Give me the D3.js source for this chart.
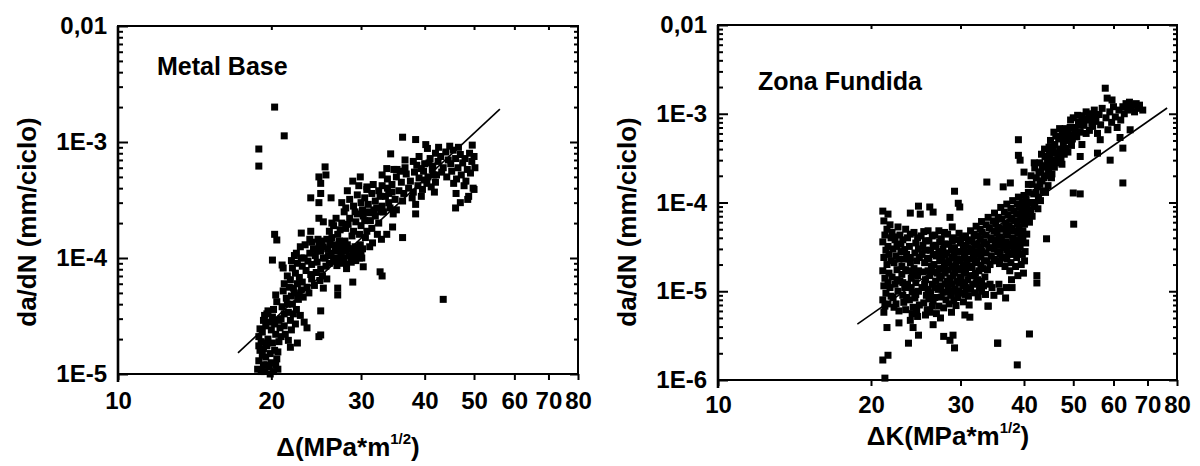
<!DOCTYPE html>
<html>
<head>
  <meta charset="utf-8">
  <title>da/dN vs Delta K</title>
  <script src="https://cdn.jsdelivr.net/npm/d3@7"></script>
  <style>
    body { margin: 0; background: #fff; }
    svg { display: block; }
    svg text { font-family: "Liberation Sans", Arial, sans-serif; font-weight: bold; fill: #000; }
  </style>
</head>
<body>
<svg id="chart" width="1200" height="466"></svg>
<script>
// axis ticks
var xTicks = [10, 20, 30, 40, 50, 60, 70, 80];
var xTickLabels = ["10", "20", "30", "40", "50", "60", "70", "80"];
var mbYTicks = [1e-5, 1e-4, 1e-3, 1e-2];
var mbYTickLabels = ["1E-5", "1E-4", "1E-3", "0,01"];
var zfYTicks = [1e-6, 1e-5, 1e-4, 1e-3, 1e-2];
var zfYTickLabels = ["1E-6", "1E-5", "1E-4", "1E-3", "0,01"];

// fitted lines [deltaK, da/dN]
var mbFit = [[17.2, 1.52e-5], [56.2, 1.92e-3]];
var zfFit = [[18.8, 4.27e-6], [76.5, 1.16e-3]];

// Metal Base: [deltaK (MPa*m^1/2), da/dN (mm/ciclo)]
var mbPoints = [
  [20.3,2.0e-3],[21.2,1.13e-3],[18.9,8.7e-4],[18.9,6.2e-4],[36.2,1.1e-3],[38.4,1.05e-3],[43.5,4.4e-5],
  [34.3,7.9e-4],[36.6,7.0e-4],[25.5,6.1e-4],[25.6,5.2e-4],[24.8,5.0e-4],[25.0,4.4e-4],[23.9,3.3e-4],
  [24.8,3.0e-4],[25.0,3.6e-4],[26.2,3.3e-4],[24.8,2.2e-4],[25.3,2.05e-4],[20.3,1.6e-4],[20.5,1.43e-4],
  [20.1,9.6e-5],[21.0,8.7e-5],[21.1,8.2e-5],[22.9,1.64e-4],[23.9,1.7e-4],[24.0,1.37e-4],[28.9,4.6e-4],
  [29.9,5.0e-4],[30.8,4.1e-4],[33.0,5.2e-4],[33.7,5.9e-4],[35.3,5.8e-4],[28.1,8.1e-5],[30.3,8.4e-5],
  [28.9,6.2e-5],[32.7,7.6e-5],[33.0,7.0e-5],[27.0,5.5e-5],[27.0,4.8e-5],[25.0,3.5e-5],[24.8,2.1e-5],
  [25.0,2.17e-5],[36.2,1.5e-4],[33.7,1.6e-4],[34.6,1.85e-4],[38.4,2.4e-4],[22.5,1.85e-5],[21.8,1.7e-5],
  [23.5,2.5e-5],[23.2,2.8e-5],[25.3,5.5e-5],[25.7,6.6e-5],
  [18.8,1.1e-5],[18.9,1.3e-5],[19.0,1.6e-5],[19.1,1.9e-5],[19.2,2.3e-5],[18.9,2.1e-5],[19.3,1.2e-5],
  [19.4,1.05e-5],[19.5,1.4e-5],[19.6,1.75e-5],[19.7,2.0e-5],[19.5,2.6e-5],[19.8,1.15e-5],[19.9,1.5e-5],
  [20.0,1.25e-5],[20.1,1.85e-5],[20.2,1.05e-5],[20.3,1.6e-5],[20.4,2.2e-5],[20.5,1.35e-5],[20.6,1.1e-5],
  [19.2,1.45e-5],[19.6,1.2e-5],[20.0,2.4e-5],[19.3,2.9e-5],[19.1,1.05e-5],[19.8,2.8e-5],[20.3,2.7e-5],
  [20.7,1.9e-5],[20.8,2.5e-5],[19.0,2.45e-5],[19.4,3.2e-5],[19.7,3.5e-5],[20.1,3.1e-5],[19.9,1.0e-5],
  [20.4,1.2e-5],[19.5,1.85e-5],[20.6,1.55e-5],[18.9,1.75e-5],[19.3,1.65e-5],
  [19.6,3.3e-5],[20.2,3.6e-5],[20.5,4.2e-5],[20.9,3.0e-5],[21.2,2.6e-5],[21.0,3.8e-5],[21.4,4.5e-5],
  [21.6,3.4e-5],[21.8,2.9e-5],[22.0,4.0e-5],[22.2,5.0e-5],[22.4,3.6e-5],[21.3,2.2e-5],[21.6,1.95e-5],
  [21.9,2.4e-5],[22.6,4.4e-5],[22.8,3.2e-5],[20.7,2.9e-5],[21.1,5.2e-5],[21.7,5.6e-5],[22.3,2.7e-5],
  [20.4,4.8e-5],[21.5,4.0e-5],[22.1,3.3e-5],[22.9,5.3e-5],[20.9,2.1e-5],[21.9,4.7e-5],[22.5,6.0e-5],
  [20.3,2.9e-5],[21.2,3.3e-5],
  [21.2,6.0e-5],[21.5,7.0e-5],[21.8,6.5e-5],[22.0,8.2e-5],[22.3,7.4e-5],[22.5,9.0e-5],[22.7,6.8e-5],
  [23.0,8.5e-5],[23.2,1.0e-4],[23.4,7.8e-5],[23.6,9.4e-5],[23.8,1.1e-4],[24.0,8.8e-5],[24.2,1.2e-4],
  [24.4,1.05e-4],[24.6,9.2e-5],[24.8,1.3e-4],[25.0,1.15e-4],[23.0,6.2e-5],[23.5,5.6e-5],[24.0,6.6e-5],
  [24.5,7.5e-5],[25.0,8.0e-5],[22.4,1.1e-4],[22.8,1.25e-4],[23.3,1.3e-4],[23.8,1.45e-4],[22.1,5.5e-5],
  [22.6,4.8e-5],[23.1,4.6e-5],[23.7,5.0e-5],[24.3,5.8e-5],[21.9,9.5e-5],[22.2,1.05e-4],[24.9,6.4e-5],
  [25.2,7.0e-5],[23.9,7.2e-5],[22.9,1.0e-4],[24.7,1.45e-4],[25.3,1.0e-4],
  [25.5,1.0e-4],[25.8,1.2e-4],[26.0,9.0e-5],[26.2,1.1e-4],[26.4,1.3e-4],[26.6,1.0e-4],[26.8,1.2e-4],
  [27.0,9.5e-5],[27.2,1.4e-4],[27.4,1.1e-4],[27.6,1.25e-4],[27.8,1.0e-4],[28.0,1.15e-4],[28.2,1.3e-4],
  [28.4,1.05e-4],[28.6,1.2e-4],[28.8,9.8e-5],[29.0,1.1e-4],[29.2,1.25e-4],[29.4,1.05e-4],[29.6,1.15e-4],
  [29.8,1.0e-4],[30.0,1.1e-4],[30.2,1.2e-4],[25.7,1.45e-4],[26.3,1.5e-4],[26.9,8.6e-5],[27.5,9.0e-5],
  [28.1,8.8e-5],[28.7,9.2e-5],[25.3,1.25e-4],[26.1,1.35e-4],[27.9,1.4e-4],[29.3,9.5e-5],[30.1,1.0e-4],
  [26.7,1.15e-4],[27.3,1.0e-4],[28.3,1.2e-4],[29.9,1.3e-4],[25.9,1.05e-4],[27.1,1.25e-4],[24.6,1.15e-4],
  [25.1,1.4e-4],[25.6,8.5e-5],[26.5,9.5e-5],
  [26.0,1.7e-4],[26.5,1.9e-4],[27.0,1.6e-4],[27.5,2.0e-4],[28.0,1.8e-4],[28.5,2.2e-4],[29.0,1.7e-4],
  [29.5,2.4e-4],[30.0,1.9e-4],[30.5,2.1e-4],[31.0,2.5e-4],[31.5,1.8e-4],[32.0,2.3e-4],[32.5,2.0e-4],
  [26.8,2.2e-4],[27.8,2.5e-4],[28.8,1.55e-4],[29.8,1.6e-4],[30.8,1.7e-4],[31.8,2.6e-4],[27.3,1.75e-4],
  [28.3,1.95e-4],[29.3,2.05e-4],[30.3,2.3e-4],[31.3,2.1e-4],[32.3,1.6e-4],[32.8,2.5e-4],[26.3,2.0e-4],
  [30.6,1.5e-4],[31.6,1.35e-4],[32.9,1.45e-4],[31.2,1.25e-4],
  [27.5,3.0e-4],[28.0,2.7e-4],[28.5,3.2e-4],[29.0,2.8e-4],[29.5,3.5e-4],[30.0,3.0e-4],[30.5,3.3e-4],
  [31.0,2.9e-4],[31.5,3.6e-4],[32.0,3.1e-4],[32.5,3.8e-4],[33.0,2.8e-4],[33.5,3.4e-4],[34.0,3.0e-4],
  [34.5,3.7e-4],[35.0,3.2e-4],[29.2,2.5e-4],[30.2,2.6e-4],[31.2,2.45e-4],[32.2,2.7e-4],[33.2,2.5e-4],
  [34.2,2.7e-4],[28.2,3.8e-4],[30.8,3.9e-4],[33.8,4.0e-4],[35.2,2.6e-4],[29.7,4.2e-4],[31.7,4.3e-4],
  [34.7,2.4e-4],[32.7,3.4e-4],
  [33.0,4.2e-4],[33.8,4.8e-4],[34.5,4.3e-4],[35.2,5.0e-4],[36.0,4.5e-4],[36.8,5.3e-4],[37.5,4.6e-4],
  [38.2,5.5e-4],[39.0,4.9e-4],[39.8,5.6e-4],[40.6,5.0e-4],[41.4,5.8e-4],[42.2,5.2e-4],[35.6,3.8e-4],
  [36.4,3.6e-4],[37.2,4.0e-4],[38.0,3.7e-4],[38.8,4.2e-4],[39.6,3.9e-4],[40.4,4.4e-4],[41.2,4.1e-4],
  [42.0,4.5e-4],[34.0,3.6e-4],[36.6,6.0e-4],[38.6,6.3e-4],[40.8,6.6e-4],[37.8,3.3e-4],[39.4,3.4e-4],
  [41.8,3.7e-4],[35.8,5.6e-4],[34.8,5.8e-4],[36.2,3.1e-4],[38.4,2.9e-4],[40.0,4.7e-4],
  [38.0,6.8e-4],[39.0,7.5e-4],[40.0,6.5e-4],[40.5,8.8e-4],[41.0,7.2e-4],[41.5,6.2e-4],[42.0,8.0e-4],
  [42.5,6.8e-4],[43.0,7.5e-4],[43.5,6.0e-4],[44.0,8.2e-4],[44.5,7.0e-4],[45.0,6.5e-4],[45.5,8.5e-4],
  [46.0,7.2e-4],[46.5,6.0e-4],[47.0,7.8e-4],[47.5,6.6e-4],[48.0,7.2e-4],[48.5,5.8e-4],[49.0,8.0e-4],
  [49.5,6.8e-4],[50.0,7.5e-4],[43.2,5.5e-4],[44.2,5.0e-4],[45.2,5.6e-4],[46.2,4.8e-4],[47.2,5.2e-4],
  [48.2,4.6e-4],[49.2,5.4e-4],[42.6,9.0e-4],[44.8,9.2e-4],[46.6,9.0e-4],[40.2,9.5e-4],[41.6,5.2e-4],
  [39.4,5.9e-4],[49.6,9.4e-4],[50.2,6.0e-4],[47.8,4.2e-4],[46.1,3.6e-4],[48.6,3.2e-4],[49.8,4.0e-4],
  [46.0,2.7e-4],[47.0,3.0e-4],[48.8,3.4e-4],[50.0,3.9e-4],[45.6,4.4e-4]
];

// Zona Fundida: [deltaK (MPa*m^1/2), da/dN (mm/ciclo)]
var zfPoints = [
  [21.1,8.0e-5],[21.6,7.4e-5],[21.2,6.2e-5],[21.8,5.6e-5],[21.3,4.3e-5],[21.1,3.6e-5],[21.4,2.9e-5],
  [21.2,2.4e-5],[21.5,2.0e-5],[21.1,1.7e-5],[21.3,1.4e-5],[21.2,1.15e-5],[21.4,9.5e-6],[21.1,8.0e-6],
  [21.3,6.8e-6],[21.2,5.8e-6],[21.6,3.2e-5],[21.7,1.6e-5],[21.8,1.1e-5],[21.5,3.9e-6],
  [21.1,1.68e-6],[21.6,1.9e-6],[21.3,1.05e-6],[22.7,4.4e-6],[23.7,2.6e-6],[24.8,3.2e-6],
  [22.0,4.6e-5],[22.3,3.8e-5],[22.1,3.0e-5],[22.4,2.5e-5],[22.2,2.1e-5],[22.5,1.75e-5],[22.0,1.45e-5],
  [22.3,1.2e-5],[22.6,1.0e-5],[22.1,8.5e-6],[22.4,7.2e-6],[22.7,6.0e-6],[22.8,4.3e-5],[22.9,2.8e-5],
  [23.0,1.9e-5],[22.8,1.3e-5],[23.1,9.0e-6],[22.9,3.4e-5],[23.2,2.3e-5],[23.0,1.55e-5],[23.3,1.1e-5],
  [23.2,7.5e-6],[22.6,5.3e-5],[23.4,5.0e-5],
  [23.6,4.0e-5],[23.8,3.2e-5],[23.5,2.6e-5],[23.9,2.1e-5],[23.7,1.7e-5],[24.0,1.4e-5],[23.6,1.2e-5],
  [24.1,9.8e-6],[23.8,8.0e-6],[24.2,6.6e-6],[24.3,4.6e-5],[24.5,3.5e-5],[24.4,2.7e-5],[24.6,2.2e-5],
  [24.3,1.8e-5],[24.7,1.5e-5],[24.5,1.25e-5],[24.8,1.0e-5],[24.4,8.4e-6],[24.9,7.0e-6],[23.9,7.6e-5],
  [24.8,9.1e-5],[25.0,7.4e-5],[24.1,5.6e-6],[24.7,5.2e-6],[24.2,3.9e-6],[23.9,4.7e-6],
  [25.1,4.2e-5],[25.3,3.3e-5],[25.2,2.6e-5],[25.5,2.1e-5],[25.3,1.65e-5],[25.6,1.35e-5],[25.2,1.1e-5],
  [25.7,9.0e-6],[25.4,7.4e-6],[25.8,6.2e-6],[25.9,4.8e-5],[26.0,3.7e-5],[26.2,2.9e-5],[26.0,2.3e-5],
  [26.3,1.9e-5],[26.1,1.5e-5],[26.4,1.2e-5],[26.2,9.6e-6],[26.5,7.8e-6],[26.1,5.8e-6],[26.7,4.3e-5],
  [26.8,3.3e-5],[26.9,2.5e-5],[26.6,2.0e-5],[27.0,1.6e-5],[26.8,1.3e-5],[27.1,1.05e-5],[26.7,8.5e-6],
  [27.2,6.8e-6],[26.5,4.2e-6],[26.1,8.9e-5],[26.5,7.8e-5],[27.4,5.0e-6],[27.8,3.1e-6],
  [27.5,3.9e-5],[27.7,3.0e-5],[27.6,2.4e-5],[27.9,1.9e-5],[27.5,1.5e-5],[28.0,1.2e-5],[27.7,9.8e-6],
  [28.1,8.0e-6],[27.8,6.5e-6],[28.3,4.4e-5],[28.4,3.4e-5],[28.2,2.7e-5],[28.5,2.2e-5],[28.3,1.75e-5],
  [28.6,1.4e-5],[28.4,1.1e-5],[28.7,9.0e-6],[28.5,7.2e-6],[28.8,5.8e-6],[28.6,6.8e-5],[28.9,5.3e-5],
  [28.6,2.8e-6],[29.2,2.3e-6],[29.0,3.2e-6],[29.0,4.0e-5],
  [29.2,3.1e-5],[29.1,2.5e-5],[29.4,2.0e-5],[29.2,1.6e-5],[29.5,1.3e-5],[29.3,1.05e-5],[29.6,8.5e-6],
  [29.4,6.9e-6],[29.7,9.8e-5],[29.9,8.9e-5],[29.2,1.34e-4],[29.8,4.5e-5],[30.0,3.5e-5],[30.1,2.8e-5],
  [29.9,2.3e-5],[30.2,1.8e-5],[30.0,1.45e-5],[30.3,1.15e-5],[30.1,9.5e-6],[30.4,7.6e-6],[30.6,5.4e-6],
  [30.7,4.2e-5],[30.8,3.3e-5],[30.6,2.6e-5],[30.9,2.1e-5],[30.7,1.7e-5],[31.0,1.35e-5],[30.8,1.1e-5],
  [31.1,8.8e-6],[31.3,5.1e-6],[31.2,7.0e-6],
  [31.4,4.8e-5],[31.6,3.8e-5],[31.5,3.0e-5],[31.8,2.4e-5],[31.6,1.9e-5],[31.9,1.5e-5],[31.7,1.2e-5],
  [32.0,9.6e-6],[32.2,5.4e-5],[32.4,4.2e-5],[32.3,3.3e-5],[32.5,2.6e-5],[32.3,2.1e-5],[32.6,1.7e-5],
  [32.4,1.35e-5],[32.7,1.1e-5],[32.5,8.6e-6],[33.0,6.1e-5],[33.1,4.6e-5],[33.3,3.6e-5],[33.0,2.8e-5],
  [33.4,2.2e-5],[33.2,1.8e-5],[33.5,1.45e-5],[33.3,1.15e-5],[33.6,9.2e-6],[34.0,6.8e-6],
  [33.8,1.7e-4],[34.0,6.8e-5],[34.2,5.2e-5],[34.4,4.0e-5],[34.1,3.1e-5],[34.5,2.5e-5],[34.3,2.0e-5],
  [34.6,1.1e-5],[34.9,9.0e-6],[35.0,7.6e-5],[35.2,5.8e-5],[35.4,4.5e-5],[35.1,3.5e-5],[35.5,2.8e-5],
  [35.3,2.2e-5],[35.7,1.2e-5],[35.9,1.0e-5],[35.5,2.6e-6],[36.0,8.8e-5],[36.2,6.5e-5],[36.4,5.0e-5],
  [36.1,3.9e-5],[36.5,3.1e-5],[36.3,2.4e-5],[36.7,1.9e-5],[36.4,1.5e-4],[36.8,8.4e-6],[36.9,1.1e-5],
  [37.6,1.66e-4],
  [37.0,9.6e-5],[37.2,7.2e-5],[37.4,5.5e-5],[37.1,4.3e-5],[37.5,3.4e-5],[37.3,2.7e-5],[37.7,2.1e-5],
  [37.5,1.7e-5],[37.8,1.35e-5],[37.9,1.1e-5],[38.0,1.05e-4],[38.2,8.0e-5],[38.4,6.2e-5],[38.1,4.8e-5],
  [38.5,3.8e-5],[38.3,3.0e-5],[38.7,2.4e-5],[38.5,1.9e-5],[38.9,1.5e-5],[39.0,1.15e-4],[39.2,8.8e-5],
  [39.4,6.8e-5],[39.1,5.3e-5],[39.5,4.1e-5],[39.3,3.2e-5],[39.7,2.6e-5],[39.5,2.0e-5],[40.0,1.2e-4],
  [40.2,9.5e-5],[40.4,7.4e-5],[40.1,5.7e-5],[40.3,3.5e-5],[40.2,2.8e-5],[40.1,2.2e-5],[39.9,1.6e-5],
  [38.8,1.48e-6],[39.0,5.1e-4],[39.0,3.4e-4],[39.3,3.0e-4],[40.0,2.2e-4],[41.0,3.3e-6],[34.0,6.8e-6],
  [35.5,2.6e-6],
  // fill of the dense cloud
  [21.5,5.0e-5],[21.9,4.0e-5],[21.7,2.6e-5],[21.9,2.2e-5],[21.6,1.25e-5],[21.9,8.8e-6],[21.6,7.2e-6],
  [22.2,6.6e-6],[22.5,1.35e-5],[22.7,2.3e-5],[22.5,3.2e-5],[22.2,4.1e-5],[23.1,3.8e-5],[23.3,2.95e-5],
  [23.4,1.75e-5],[23.1,1.25e-5],[23.5,8.5e-6],[23.4,6.2e-6],[23.9,4.4e-5],[23.9,2.4e-5],[24.1,1.55e-5],
  [24.0,1.1e-5],[24.5,9.2e-6],[24.6,6.2e-6],[24.8,1.7e-5],[24.9,2.4e-5],[24.8,3.0e-5],[24.7,4.0e-5],
  [25.4,4.7e-5],[25.6,3.7e-5],[25.6,2.9e-5],[25.8,2.35e-5],[25.9,1.7e-5],[25.5,1.2e-5],[25.9,1.05e-5],
  [26.0,8.2e-6],[25.6,5.4e-6],[26.4,4.2e-5],[26.5,3.2e-5],[26.5,2.6e-5],[26.6,1.65e-5],[26.7,1.1e-5],
  [26.4,6.8e-6],[26.9,5.6e-6],[27.2,4.8e-5],[27.3,3.6e-5],[27.2,2.8e-5],[27.3,2.2e-5],[27.4,1.8e-5],
  [27.3,1.4e-5],[27.4,1.15e-5],[27.5,8.6e-6],[27.9,4.6e-5],[27.9,3.4e-5],[28.0,2.55e-5],[28.1,2.1e-5],
  [28.0,1.6e-5],[28.2,1.3e-5],[28.3,9.8e-6],[28.9,3.7e-5],[28.8,2.95e-5],[28.9,2.4e-5],[28.9,1.9e-5],
  [29.0,1.5e-5],[28.9,1.2e-5],[29.0,1.0e-5],[29.1,7.8e-6],[29.6,3.8e-5],[29.5,2.75e-5],[29.6,2.2e-5],
  [29.7,1.75e-5],[29.8,1.25e-5],[29.8,1.0e-5],[30.3,4.0e-5],[30.4,3.1e-5],[30.5,2.4e-5],[30.4,2.0e-5],
  [30.5,1.6e-5],[30.6,1.25e-5],[30.6,9.2e-6],[31.1,3.7e-5],[31.2,2.8e-5],[31.3,2.3e-5],[31.2,1.85e-5],
  [31.3,1.5e-5],[31.4,1.05e-5],[31.9,4.4e-5],[32.0,3.4e-5],[32.0,2.8e-5],[32.1,2.2e-5],[32.1,1.6e-5],
  [32.2,1.25e-5],[32.8,5.0e-5],[32.8,3.9e-5],[32.9,3.1e-5],[32.9,2.45e-5],[32.9,1.95e-5],[33.0,1.3e-5],
  [33.0,1.0e-5],[33.7,5.6e-5],[33.7,4.3e-5],[33.8,3.4e-5],[33.7,2.7e-5],[33.8,2.2e-5],[33.9,1.75e-5],
  [34.3,1.2e-5],[34.8,6.2e-5],[34.9,4.8e-5],[34.8,3.8e-5],[34.9,3.0e-5],[34.9,2.3e-5],[35.6,6.8e-5],
  [35.7,5.2e-5],[35.8,4.1e-5],[35.9,3.3e-5],[35.9,2.6e-5],[35.8,2.05e-5],[36.6,7.8e-5],[36.8,5.8e-5],
  [36.9,4.6e-5],[36.9,3.6e-5],[37.0,2.9e-5],[37.0,2.3e-5],[37.7,8.6e-5],[37.8,6.6e-5],[37.9,5.1e-5],
  [38.0,4.0e-5],[38.0,3.2e-5],[38.1,2.6e-5],[38.8,9.6e-5],[38.8,7.4e-5],[38.8,5.8e-5],[38.9,4.5e-5],
  [38.9,3.5e-5],[39.0,2.8e-5],[39.7,1.0e-4],[39.7,8.0e-5],[39.8,6.3e-5],[39.8,4.8e-5],[39.8,3.8e-5],
  [40.4,1.1e-4],[40.6,8.6e-5],[40.6,6.6e-5],[40.5,4.4e-5],
  // rising branch
  [40.8,1.3e-4],[41.0,1.0e-4],[41.2,8.2e-5],[41.5,1.6e-4],[41.8,1.25e-4],[42.0,1.0e-4],[42.0,2.45e-4],
  [42.3,1.9e-4],[42.5,1.5e-4],[42.7,1.15e-4],[42.4,1.5e-5],[42.4,1.24e-5],[43.0,2.8e-4],[43.2,2.2e-4],
  [43.4,1.75e-4],[43.6,1.35e-4],[43.1,1.05e-4],[44.0,3.3e-4],[44.2,2.6e-4],[44.4,2.0e-4],[44.6,1.55e-4],
  [44.3,3.9e-5],[44.8,4.2e-4],[45.0,3.4e-4],[45.2,2.7e-4],[45.4,2.1e-4],[45.8,6.2e-4],[45.8,3.0e-4],
  [46.0,4.5e-4],[46.3,3.6e-4],[46.5,2.8e-4],[46.8,5.2e-4],[47.0,4.0e-4],[47.3,3.1e-4],[47.6,6.0e-4],
  [47.8,4.6e-4],[48.0,3.5e-4],[48.2,6.8e-4],[48.5,5.0e-4],[48.8,3.7e-4],[49.3,7.0e-4],[49.0,5.8e-4],
  [49.6,4.4e-4],[50.0,1.28e-4],[51.6,1.25e-4],[50.1,5.7e-5],
  [40.8,1.6e-4],[41.3,2.0e-4],[41.0,6.0e-5],[41.5,7.0e-5],[41.8,9.0e-5],[41.9,2.8e-4],[42.2,1.3e-4],
  [42.6,8.5e-5],[42.8,2.2e-4],[43.0,1.6e-4],[43.3,3.5e-4],[43.5,2.5e-4],[43.8,1.9e-4],[43.9,4.0e-4],
  [44.1,1.3e-4],[44.5,2.9e-4],[44.7,2.3e-4],[44.9,3.7e-4],[45.1,5.0e-4],[45.3,1.9e-4],[45.6,3.9e-4],
  [45.9,2.5e-4],[46.2,5.6e-4],[46.6,3.2e-4],[47.0,6.8e-4],[47.2,3.6e-4],[47.5,2.7e-4],[48.0,5.4e-4],
  [48.4,4.1e-4],[48.9,6.3e-4],[49.4,8.5e-4],[49.8,5.2e-4],
  // upper end
  [50.0,9.0e-4],[50.4,7.0e-4],[50.8,5.5e-4],[51.2,8.0e-4],[51.6,6.2e-4],[52.0,9.5e-4],[52.5,7.4e-4],
  [53.0,1.05e-3],[53.4,8.5e-4],[53.8,6.5e-4],[54.2,9.0e-4],[54.6,7.2e-4],[55.0,1.1e-3],[55.4,8.2e-4],
  [55.8,6.0e-4],[56.2,9.8e-4],[56.6,7.5e-4],[57.0,1.15e-3],[57.8,1.94e-3],[58.3,1.5e-3],[59.6,1.43e-3],
  [58.0,9.0e-4],[58.5,6.6e-4],[59.0,1.05e-3],[59.5,8.0e-4],[60.0,1.2e-3],[60.5,9.2e-4],[61.0,7.0e-4],
  [61.5,1.1e-3],[62.0,8.5e-4],[62.6,1.2e-3],[63.0,1.0e-3],[63.5,1.3e-3],[64.0,1.1e-3],[64.5,1.35e-3],
  [65.0,1.15e-3],[65.5,1.25e-3],[66.0,1.05e-3],[66.5,1.3e-3],[67.0,1.15e-3],[67.5,1.25e-3],[68.5,1.1e-3],
  [62.6,1.66e-4],[51.6,3.3e-4],[55.8,3.6e-4],[59.1,3.0e-4],[62.6,4.1e-4],[61.8,5.4e-4],[64.7,6.6e-4],
  [56.5,5.1e-4],[52.0,4.5e-4],[50.5,6.0e-4],[51.0,9.6e-4],[51.5,7.4e-4],[52.3,8.6e-4],[53.0,6.0e-4],
  [53.6,1.0e-3],[54.4,7.8e-4],[55.2,9.4e-4]
];

var panels = [
  { title: "Metal Base", titleX: 157, titleY: 75, points: mbPoints, fit: mbFit,
    yDomain: [1e-5, 1e-2], yTicks: mbYTicks, yLabels: mbYTickLabels,
    left: 118, right: 578, top: 26, bottom: 374, xPad: 12,
    yTitleX: 27, yTitleY: 222, xTitleX: 348, xTitleY: 456, xTitle: "\u0394(MPa*m" },
  { title: "Zona Fundida", titleX: 758, titleY: 90, points: zfPoints, fit: zfFit,
    yDomain: [1e-6, 1e-2], yTicks: zfYTicks, yLabels: zfYTickLabels,
    left: 718, right: 1177, top: 25, bottom: 380, xPad: 10,
    yTitleX: 627, yTitleY: 222, xTitleX: 948, xTitleY: 445, xTitle: "\u0394K(MPa*m" }
];

var svg = d3.select("#chart");
var sq = 7;

function styleAxis(g, width) {
  g.select(".domain").remove();
  g.selectAll(".tick line").attr("stroke", "#000").attr("stroke-width", width);
  g.selectAll(".tick text").attr("font-size", 24).attr("fill", "#000")
    .attr("font-family", "'Liberation Sans', Arial, sans-serif").attr("font-weight", "bold");
}

function drawPanel(p) {
  var x = d3.scaleLog().domain([10, 80]).range([p.left, p.right]);
  var y = d3.scaleLog().domain(p.yDomain).range([p.bottom, p.top]);
  var g = svg.append("g");

  var minor = y.ticks().filter(function(v) {
    var l = Math.log10(v);
    return Math.abs(l - Math.round(l)) > 1e-6;
  });

  // left axis
  g.append("g").attr("transform", "translate(" + p.left + ",0)")
    .call(d3.axisLeft(y).tickValues(minor).tickSize(-5).tickFormat(""))
    .call(styleAxis, 2);
  g.append("g").attr("transform", "translate(" + p.left + ",0)")
    .call(d3.axisLeft(y).tickValues(p.yTicks).tickSize(-10).tickPadding(11)
      .tickFormat(function(d, i) { return p.yLabels[i]; }))
    .call(styleAxis, 2);

  // right axis
  g.append("g").attr("transform", "translate(" + p.right + ",0)")
    .call(d3.axisRight(y).tickValues(minor).tickSize(-4).tickFormat(""))
    .call(styleAxis, 2);
  g.append("g").attr("transform", "translate(" + p.right + ",0)")
    .call(d3.axisRight(y).tickValues(p.yTicks).tickSize(-8).tickFormat(""))
    .call(styleAxis, 2);

  // bottom + top
  g.append("g").attr("transform", "translate(0," + p.bottom + ")")
    .call(d3.axisBottom(x).tickValues(xTicks).tickSize(6).tickPadding(p.xPad)
      .tickFormat(function(d, i) { return xTickLabels[i]; }))
    .call(styleAxis, 2);
  g.append("g").attr("transform", "translate(0," + p.top + ")")
    .call(d3.axisTop(x).tickValues(xTicks.slice(1, -1)).tickSize(-4).tickFormat(""))
    .call(styleAxis, 2);

  // frame
  g.append("rect")
    .attr("x", p.left).attr("y", p.top)
    .attr("width", p.right - p.left).attr("height", p.bottom - p.top)
    .attr("fill", "none").attr("stroke", "#000").attr("stroke-width", 2);
  g.append("line")
    .attr("x1", p.left).attr("x2", p.left).attr("y1", p.top).attr("y2", p.bottom + 8)
    .attr("stroke", "#000").attr("stroke-width", 2.6);

  // data
  g.append("g").selectAll("rect").data(p.points).enter().append("rect")
    .attr("x", function(d) { return x(d[0]) - sq / 2; })
    .attr("y", function(d) { return y(d[1]) - sq / 2; })
    .attr("width", sq).attr("height", sq).attr("fill", "#000");

  g.append("path").datum(p.fit)
    .attr("d", d3.line().x(function(d) { return x(d[0]); }).y(function(d) { return y(d[1]); }))
    .attr("fill", "none").attr("stroke", "#000").attr("stroke-width", 1.6);

  // titles
  g.append("text").attr("x", p.titleX).attr("y", p.titleY)
    .attr("font-size", 25).text(p.title);

  g.append("text")
    .attr("transform", "translate(" + p.yTitleX + "," + p.yTitleY + ") rotate(-90)")
    .attr("text-anchor", "middle").attr("dy", "0.35em")
    .attr("font-size", 26).text("da/dN (mm/ciclo)");

  var xt = g.append("text").attr("x", p.xTitleX).attr("y", p.xTitleY)
    .attr("text-anchor", "middle").attr("font-size", 26);
  xt.append("tspan").text(p.xTitle);
  xt.append("tspan").attr("font-size", 15).attr("dy", -12).text("1/2");
  xt.append("tspan").attr("dy", 12).text(")");
}

panels.forEach(drawPanel);
</script>
</body>
</html>
